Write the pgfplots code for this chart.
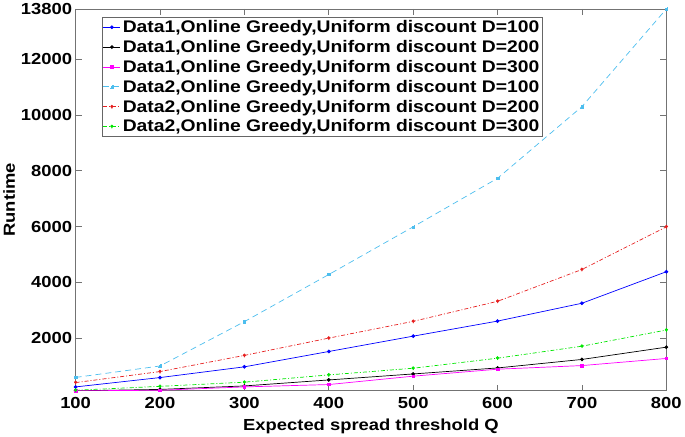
\documentclass[border=0pt]{standalone}
\usepackage{fontspec}
\setmainfont{Liberation Sans}[FakeStretch=1.15]
\usepackage{pgfplots}
\pgfplotsset{compat=1.18}

\definecolor{mblue}{RGB}{0,0,255}
\definecolor{mmag}{RGB}{255,0,255}
\definecolor{mcyan}{RGB}{77,190,238}
\definecolor{mred}{RGB}{230,30,30}
\definecolor{mgreen}{RGB}{0,230,0}

\begin{document}
\begin{tikzpicture}
\begin{axis}[
  scale only axis,
  width=591pt, height=382pt,
  xmin=100, xmax=800,
  ymin=110, ymax=13800,
  xtick={100,200,...,800},
  ytick={2000,4000,6000,8000,10000,12000,13800},
  scaled y ticks=false,
  /pgf/number format/1000 sep={},
  /pgf/number format/assume math mode=true,
  tick label style={font=\fontsize{16}{18}\selectfont\bfseries},
  xticklabel style={yshift=-3pt},
  label style={font=\fontsize{16}{18}\selectfont\bfseries},
  xlabel={Expected spread threshold Q},
  ylabel={Runtime},
  xlabel style={yshift=-3pt},
  ylabel style={yshift=-1pt},
  tick align=inside,
  major tick length=6pt,
  axis line style={black!55, line width=0.8pt},
  tick style={black!55, line width=0.8pt},
  legend style={at={(0.044,0.979)}, anchor=north west,
    font=\fontsize{16.8}{18}\selectfont\bfseries,
    draw=black!60, line width=0.8pt, inner sep=1pt,
    row sep=2.2pt},
  legend cell align=left,
  legend image code/.code={%
    \draw[mark repeat=2, mark phase=2, #1] plot coordinates {(0cm,0cm) (0.3cm,0cm) (0.6cm,0cm)};},
  every axis plot/.append style={line width=0.7pt, mark size=1.5pt},
]
\addplot[mblue, mark=*] coordinates {
  (100,250) (200,585) (300,970) (400,1520) (500,2070) (600,2610) (700,3250) (800,4380)};
\addplot[black, mark=*] coordinates {
  (100,110) (200,160) (300,285) (400,500) (500,715) (600,930) (700,1235) (800,1675)};
\addplot[mmag, mark=square*, mark size=1.3pt] coordinates {
  (100,110) (200,130) (300,250) (400,335) (500,635) (600,885) (700,1015) (800,1270)};
\addplot[mcyan, mark=square*, mark size=1.3pt,
  dash pattern=on 6pt off 4pt] coordinates {
  (100,590) (200,1000) (300,2590) (400,4280) (500,5990) (600,7730) (700,10300) (800,13800)};
\addplot[mred, dash pattern=on 4pt off 2pt on 1pt off 2pt, mark=*] coordinates {
  (100,405) (200,800) (300,1380) (400,2000) (500,2600) (600,3320) (700,4460) (800,5990)};
\addplot[mgreen, dash pattern=on 4pt off 2pt on 1pt off 2pt, mark=*] coordinates {
  (100,130) (200,270) (300,420) (400,680) (500,920) (600,1280) (700,1710) (800,2290)};
\legend{Data1{,}Online Greedy{,}Uniform discount D=100,
  Data1{,}Online Greedy{,}Uniform discount D=200,
  Data1{,}Online Greedy{,}Uniform discount D=300,
  Data2{,}Online Greedy{,}Uniform discount D=100,
  Data2{,}Online Greedy{,}Uniform discount D=200,
  Data2{,}Online Greedy{,}Uniform discount D=300}
\end{axis}
\end{tikzpicture}
\end{document}
